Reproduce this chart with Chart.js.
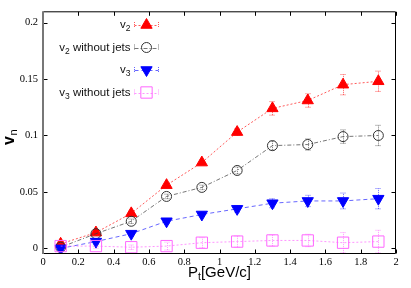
<!DOCTYPE html>
<html>
<head>
<meta charset="utf-8">
<script src="https://cdn.jsdelivr.net/npm/chart.js@4.4.0/dist/chart.umd.min.js"></script>
<style>
html, body { margin: 0; padding: 0; background: #fff; }
#wrap { width: 411px; height: 288px; }
</style>
</head>
<body>
<div id="wrap"><canvas id="c"></canvas></div>
<script>
// values
const pt = [0.1, 0.3, 0.5, 0.7, 0.9, 1.1, 1.3, 1.5, 1.7, 1.9];
const v2 = [0.004, 0.014, 0.031, 0.056, 0.076, 0.103, 0.124, 0.131, 0.145, 0.148];
const v2Err = [0.002, 0.002, 0.002, 0.002, 0.002, 0.003, 0.006, 0.006, 0.009, 0.009];
const v2NoJets = [0.001, 0.013, 0.024, 0.046, 0.054, 0.069, 0.091, 0.092, 0.099, 0.100];
const v2NoJetsErr = [0.002, 0.002, 0.002, 0.002, 0.002, 0.003, 0.004, 0.005, 0.006, 0.009];
const v3 = [0.000, 0.006, 0.013, 0.024, 0.030, 0.035, 0.040, 0.042, 0.042, 0.044];
const v3Err = [0.002, 0.002, 0.002, 0.002, 0.002, 0.003, 0.004, 0.005, 0.007, 0.009];
const v3NoJets = [0.002, 0.002, 0.001, 0.002, 0.005, 0.006, 0.007, 0.007, 0.005, 0.006];
const v3NoJetsErr = [0.002, 0.002, 0.002, 0.0035, 0.0045, 0.005, 0.005, 0.0055, 0.009, 0.010];

const xTicks = [0, 0.2, 0.4, 0.6, 0.8, 1, 1.2, 1.4, 1.6, 1.8, 2];
const yTicks = [0, 0.05, 0.1, 0.15, 0.2];

const series = [
  { sub: '2', rest: '', y: v2, err: v2Err, color: 'rgba(255,0,0,0.65)', dash: [2, 2],
    style: 'triangle', rot: 0, r: 6.5, fill: '#ff0000', stroke: '#ff0000' },
  { sub: '2', rest: ' without jets', y: v2NoJets, err: v2NoJetsErr, color: 'rgba(60,60,60,0.7)', dash: [4, 2, 1, 2],
    style: 'circle', rot: 0, r: 5, fill: 'rgba(0,0,0,0)', stroke: '#333' },
  { sub: '3', rest: '', y: v3, err: v3Err, color: 'rgba(0,0,255,0.6)', dash: [4, 3],
    style: 'triangle', rot: 180, r: 6.5, fill: '#0000ff', stroke: '#0000ff' },
  { sub: '3', rest: ' without jets', y: v3NoJets, err: v3NoJetsErr, color: 'rgba(255,80,255,0.6)', dash: [2, 2],
    style: 'rect', rot: 0, r: 8, fill: 'rgba(0,0,0,0)', stroke: '#ff66ff' }
];

function fmt(v) { return String(+v.toFixed(3)); }

// error bars, drawn under the markers
const errorBars = {
  id: 'errorBars',
  beforeDatasetsDraw(chart) {
    const ctx = chart.ctx, xs = chart.scales.x, ys = chart.scales.y;
    series.forEach(s => {
      ctx.save();
      ctx.strokeStyle = s.color;
      ctx.lineWidth = 1;
      ctx.setLineDash([1, 1]);
      pt.forEach((p, i) => {
        const x = Math.round(xs.getPixelForValue(p)) + 0.5;
        const y1 = ys.getPixelForValue(s.y[i] - s.err[i]);
        const y2 = ys.getPixelForValue(s.y[i] + s.err[i]);
        ctx.beginPath();
        ctx.moveTo(x, y1); ctx.lineTo(x, y2);
        ctx.moveTo(x - 3, y1); ctx.lineTo(x + 3, y1);
        ctx.moveTo(x - 3, y2); ctx.lineTo(x + 3, y2);
        ctx.stroke();
      });
      ctx.restore();
    });
  }
};

function drawMarker(ctx, s, x, y) {
  ctx.save();
  ctx.setLineDash([]);
  ctx.lineWidth = 1;
  ctx.fillStyle = s.fill;
  ctx.strokeStyle = s.stroke;
  ctx.beginPath();
  if (s.style === 'circle') {
    ctx.arc(x, y, s.r, 0, Math.PI * 2);
  } else if (s.style === 'rect') {
    const h = s.r * Math.SQRT1_2;
    ctx.rect(x - h, y - h, 2 * h, 2 * h);
  } else {
    const a0 = s.rot * Math.PI / 180;
    for (let k = 0; k < 3; k++) {
      const a = a0 + k * 2 * Math.PI / 3;
      const px = x + Math.sin(a) * s.r, py = y - Math.cos(a) * s.r;
      if (k === 0) ctx.moveTo(px, py); else ctx.lineTo(px, py);
    }
    ctx.closePath();
  }
  ctx.fill();
  ctx.stroke();
  ctx.restore();
}

// frame, inward ticks, legend and axis titles
const decorations = {
  id: 'decorations',
  afterDraw(chart) {
    const ctx = chart.ctx, a = chart.chartArea, xs = chart.scales.x, ys = chart.scales.y;
    const L = a.left + 0.5, R = a.right - 0.5, T = a.top + 0.5, B = a.bottom - 0.5;
    ctx.save();
    ctx.strokeStyle = '#000';
    ctx.lineWidth = 1;
    ctx.beginPath();
    ctx.moveTo(L, T); ctx.lineTo(R, T); ctx.lineTo(R, B); ctx.lineTo(L, B);
    yTicks.forEach(v => {
      const y = Math.round(ys.getPixelForValue(v)) + 0.5;
      ctx.moveTo(L, y); ctx.lineTo(L + 4, y);
      ctx.moveTo(R, y); ctx.lineTo(R - 4, y);
    });
    xTicks.forEach(v => {
      const x = Math.round(xs.getPixelForValue(v)) + 0.5;
      ctx.moveTo(x, B); ctx.lineTo(x, B - 4);
      ctx.moveTo(x, T); ctx.lineTo(x, T + 4);
    });
    ctx.stroke();
    ctx.strokeStyle = '#777';
    ctx.lineWidth = 2;
    ctx.beginPath();
    ctx.moveTo(a.left, a.top); ctx.lineTo(a.left, a.bottom);
    ctx.stroke();

    // legend
    const rowsY = [25, 47.5, 70, 92.5];
    const textRight = 130.5, lineL = 134.5, lineR = 158.5, mx = 146.5;
    series.forEach((s, i) => {
      const y = rowsY[i];
      ctx.font = '11.5px "Liberation Sans", Arial, sans-serif';
      const w1 = ctx.measureText('v').width;
      const w3 = ctx.measureText(s.rest).width;
      ctx.font = '8.5px "Liberation Sans", Arial, sans-serif';
      const w2 = ctx.measureText(s.sub).width;
      let x = textRight - (w1 + w2 + w3);
      ctx.fillStyle = '#111';
      ctx.textAlign = 'left';
      ctx.textBaseline = 'alphabetic';
      ctx.font = '11.5px "Liberation Sans", Arial, sans-serif';
      ctx.fillText('v', x, y + 3);
      ctx.font = '8.5px "Liberation Sans", Arial, sans-serif';
      ctx.fillText(s.sub, x + w1, y + 6);
      ctx.font = '11.5px "Liberation Sans", Arial, sans-serif';
      ctx.fillText(s.rest, x + w1 + w2, y + 3);

      ctx.strokeStyle = s.color;
      ctx.lineWidth = 1;
      ctx.setLineDash(s.dash);
      ctx.beginPath();
      ctx.moveTo(lineL, Math.round(y) + 0.5); ctx.lineTo(lineR, Math.round(y) + 0.5);
      ctx.stroke();
      ctx.setLineDash([1, 1]);
      ctx.beginPath();
      ctx.moveTo(lineL, y - 3); ctx.lineTo(lineL, y + 3);
      ctx.moveTo(lineR, y - 3); ctx.lineTo(lineR, y + 3);
      ctx.stroke();
      ctx.setLineDash([]);
      drawMarker(ctx, s, mx, y);
    });

    // x title: P_t[GeV/c]
    ctx.fillStyle = '#000';
    ctx.font = '15px "Liberation Sans", Arial, sans-serif';
    const wP = ctx.measureText('P').width, wR = ctx.measureText('[GeV/c]').width;
    ctx.font = '10.5px "Liberation Sans", Arial, sans-serif';
    const wt = ctx.measureText('t').width;
    let x0 = (a.left + a.right) / 2 - (wP + wt + wR) / 2;
    ctx.font = '15px "Liberation Sans", Arial, sans-serif';
    ctx.fillText('P', x0, 277);
    ctx.font = '10.5px "Liberation Sans", Arial, sans-serif';
    ctx.fillText('t', x0 + wP, 280);
    ctx.font = '15px "Liberation Sans", Arial, sans-serif';
    ctx.fillText('[GeV/c]', x0 + wP + wt, 277);

    // y title: v_n
    ctx.translate(14, 136);
    ctx.rotate(-Math.PI / 2);
    ctx.font = 'bold 16px "Liberation Sans", Arial, sans-serif';
    const wv = ctx.measureText('v').width;
    ctx.fillText('v', -wv, 0);
    ctx.font = '11px "Liberation Sans", Arial, sans-serif';
    ctx.fillText('n', 0.5, 3);
    ctx.restore();
  }
};

new Chart(document.getElementById('c'), {
  type: 'scatter',
  data: {
    datasets: series.map((s, i) => ({
      data: pt.map((p, j) => ({ x: p, y: s.y[j] })),
      showLine: true,
      borderColor: s.color,
      borderWidth: 1,
      borderDash: s.dash,
      pointStyle: s.style,
      rotation: s.rot,
      pointRadius: s.r,
      pointBackgroundColor: s.fill,
      pointBorderColor: s.stroke,
      pointBorderWidth: 1,
      order: series.length - i
    }))
  },
  options: {
    responsive: true,
    maintainAspectRatio: false,
    animation: false,
    devicePixelRatio: 1,
    layout: { padding: { top: 10, right: 15, left: 0, bottom: 0 } },
    plugins: { legend: { display: false }, tooltip: { enabled: false } },
    scales: {
      x: {
        type: 'linear', min: 0, max: 2,
        grid: { display: false, drawTicks: false },
        border: { display: false },
        afterBuildTicks: sc => { sc.ticks = xTicks.map(v => ({ value: v })); },
        afterFit: sc => { sc.height = 34; },
        ticks: {
          padding: 2, color: '#000', maxRotation: 0, autoSkip: false,
          font: { family: '"Liberation Serif", "Times New Roman", serif', size: 10.5 },
          callback: v => fmt(v)
        }
      },
      y: {
        type: 'linear', min: -0.005, max: 0.21,
        grid: { display: false, drawTicks: false },
        border: { display: false },
        afterBuildTicks: sc => { sc.ticks = yTicks.map(v => ({ value: v })); },
        afterFit: sc => { sc.width = 43; },
        ticks: {
          padding: 5, color: '#000',
          font: { family: '"Liberation Serif", "Times New Roman", serif', size: 10.5 },
          callback: v => fmt(v)
        }
      }
    }
  },
  plugins: [errorBars, decorations]
});
</script>
</body>
</html>
